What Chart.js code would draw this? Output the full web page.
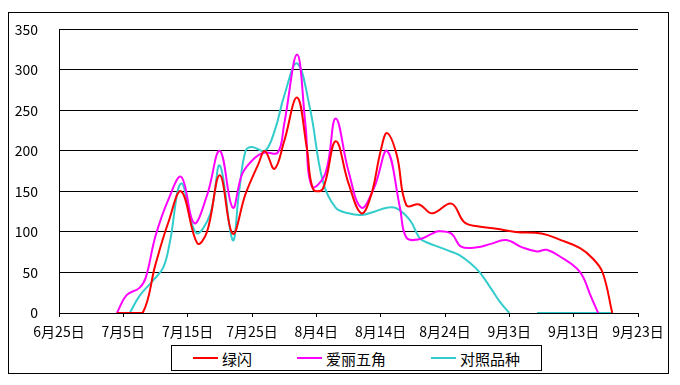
<!DOCTYPE html>
<html>
<head>
<meta charset="utf-8">
<script src="https://cdn.jsdelivr.net/npm/chart.js@4/dist/chart.umd.min.js"></script>
<style>
    body { margin: 0; background: #fff; }
    #frame { position: absolute; left: 8px; top: 12px; width: 661px; height: 362px; box-sizing: border-box; border: 1px solid #000; }
    #wrap { position: absolute; left: 0; top: 0; width: 680px; height: 385px; }
    #legend { position: absolute; left: 171px; top: 345px; width: 371px; height: 26px; box-sizing: border-box; border: 1px solid #000; background: #fff;
        display: flex; align-items: center; padding: 0 21px; font: 15px "Noto Sans CJK SC", sans-serif; color: #000; }
    .item { display: flex; align-items: center; margin-right: 45px; }
    .item:last-child { margin-right: 0; }
    .swatch { width: 25px; height: 2px; margin-right: 4px; }
</style>
</head>
<body>
<div id="frame"></div>
<div id="wrap"><canvas id="chart" width="680" height="385"></canvas></div>
<div id="legend"></div>
<script>
// x = days after 6月25日
const tickLabels = ['6月25日', '7月5日', '7月15日', '7月25日', '8月4日', '8月14日', '8月24日', '9月3日', '9月13日', '9月23日'];
const seriesNames = ['绿闪', '爱丽五角', '对照品种'];
const seriesColors = ['#ff0000', '#ff00ff', '#33cccc'];

const lvshanDays = [9, 11, 13, 15, 17, 19, 21.5, 23, 25, 27, 29, 31, 32, 33.5, 35, 37, 38.5, 39.5, 41, 43, 45, 47, 48.5, 50, 51, 52.5, 54, 56, 58, 61, 63, 65, 68, 71, 75, 78, 81, 83, 84.5, 86];
const lvshanValues = [0, 0, 0, 60, 112, 150, 86, 100, 170, 98, 147, 184, 200, 178, 212, 266, 205, 153, 153, 212, 160, 123, 145, 200, 222, 195, 133, 134, 123, 135, 112, 107, 104, 100, 98, 90, 80, 67, 50, 0];

const ailiDays = [9, 10.5, 12.5, 13.5, 15, 17, 19, 21, 23, 25, 27, 28.5, 30.5, 32, 34, 35, 37, 38.3, 39.3, 41.4, 43, 45, 47, 49, 51, 53, 54, 56, 58, 59, 61, 62.5, 65, 67, 69.5, 72, 74.3, 75.8, 78.4, 80.5, 81.5, 82.5, 83.8];
const ailiValues = [0, 22, 31, 44, 95, 140, 168, 111, 145, 200, 130, 172, 192, 198, 198, 233, 319, 233, 156, 172, 240, 175, 130, 155, 200, 130, 93, 91, 98, 101, 98, 82, 81, 85, 90, 81, 76, 78, 67, 55, 44, 24, 0];

const duizhaoDays = [11, 12.6, 14.6, 16.2, 17.2, 19, 21.3, 23.5, 25, 27, 28, 29, 30, 32, 33.6, 35, 37, 39, 41, 43, 45, 47, 49, 51, 52.5, 54.6, 56, 57.2, 59.2, 61.2, 62.3, 64, 65.4, 67, 68.6, 70, 72, 74.3, 86];
const duizhaoValues = [0, 22, 40, 56, 86, 160, 99, 122, 182, 90, 150, 200, 205, 200, 227, 268, 308, 253, 163, 130, 123, 121, 125, 130, 129, 114, 93, 87, 81, 75, 71, 61, 50, 32, 13, 0, null, 0, 0];

const allDays = [lvshanDays, ailiDays, duizhaoDays];
const allValues = [lvshanValues, ailiValues, duizhaoValues];

function toPoints(days, values) {
    return days.map((d, i) => ({ x: d, y: values[i] }));
}

const datasets = seriesNames.map((name, i) => ({
    label: name,
    data: toPoints(allDays[i], allValues[i]),
    borderColor: seriesColors[i],
    backgroundColor: seriesColors[i],
    borderWidth: 2,
    pointRadius: 0,
    tension: 0.4,
    fill: false,
    spanGaps: false
}));

const tickFont = { family: '"Noto Sans CJK SC", sans-serif', size: 14 };

new Chart(document.getElementById('chart').getContext('2d'), {
    type: 'line',
    data: { datasets: datasets },
    options: {
        responsive: false,
        animation: false,
        events: [],
        layout: { padding: { left: 0, top: 28, right: 42, bottom: 0 } },
        plugins: {
            legend: { display: false },
            tooltip: { enabled: false }
        },
        scales: {
            x: {
                type: 'linear',
                min: 0,
                max: 90,
                afterFit: scale => { scale.height = 72; },
                ticks: {
                    stepSize: 10,
                    autoSkip: false,
                    maxRotation: 0,
                    color: '#000',
                    font: tickFont,
                    padding: 6,
                    callback: v => tickLabels[Math.round(v / 10)]
                },
                grid: { drawOnChartArea: false, drawTicks: true, tickLength: 4, color: '#000' },
                border: { color: '#000', width: 1 }
            },
            y: {
                min: 0,
                max: 350,
                afterFit: scale => { scale.width = 59; },
                ticks: { stepSize: 50, color: '#000', font: tickFont, padding: 21 },
                grid: { color: '#000', lineWidth: 1, drawTicks: false },
                border: { color: '#000', width: 1 }
            }
        }
    }
});

// legend below the plot, inside a box
const legend = document.getElementById('legend');
seriesNames.forEach((name, i) => {
    const item = document.createElement('div');
    item.className = 'item';
    item.innerHTML = '<span class="swatch" style="background:' + seriesColors[i] + '"></span><span>' + name + '</span>';
    legend.appendChild(item);
});
</script>
</body>
</html>
